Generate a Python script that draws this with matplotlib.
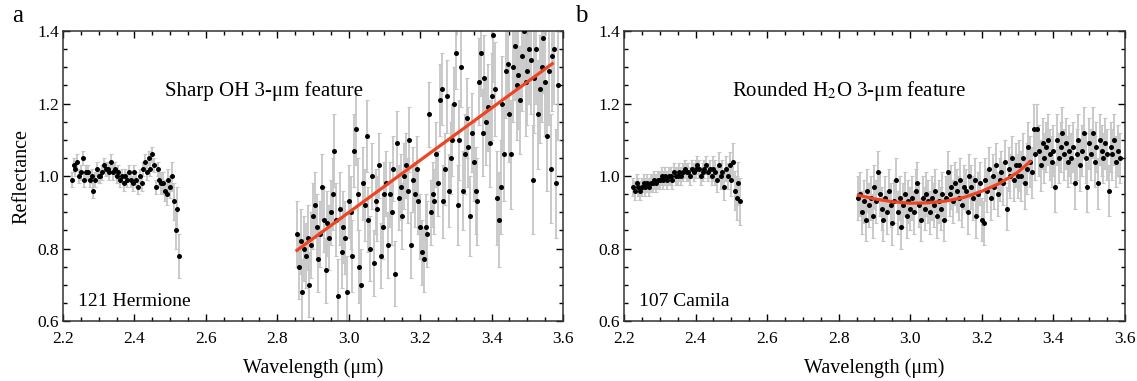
import numpy as np
import matplotlib
matplotlib.use('Agg')
import matplotlib.pyplot as plt
from matplotlib.ticker import MultipleLocator, FormatStrFormatter

plt.rcParams['font.family'] = ['Liberation Serif', 'DejaVu Serif']
plt.rcParams['mathtext.fontset'] = 'stix'

# ---- data ----
# 121 Hermione, short-wavelength segment (2.225 - 2.525 um)
herm_blue_y = [0.99, 1.03, 1.02, 1.04, 1.00, 1.01, 1.05, 0.99, 1.01, 1.01,
               0.99, 1.00, 0.96, 0.99, 1.02, 1.00, 1.00, 1.01, 1.03, 1.02,
               1.02, 1.01, 1.04, 1.01, 1.02, 1.00, 1.01, 0.99, 1.00, 0.98,
               1.00, 0.99, 1.01, 0.99, 0.98, 1.01, 0.99, 0.97, 1.00, 0.98,
               1.02, 1.04, 1.01, 1.05, 1.02, 1.06, 1.03, 0.97, 1.02, 0.99,
               0.98, 0.98, 0.96, 0.95, 0.99, 0.97, 1.00, 0.93, 0.85, 0.91, 0.78]
herm_blue_err = [0.02] * 50 + [0.03] * 6 + [0.04, 0.05, 0.05, 0.06, 0.06]

# 121 Hermione, 3-um segment (2.855 - 3.585 um)
herm_red_y = [0.84, 0.75, 0.82, 0.68, 0.80, 0.78, 0.83, 0.70, 0.81, 0.89,
              0.92, 0.86, 0.77, 0.84, 0.97, 0.88, 0.74, 0.87, 0.83, 0.90,
              0.95, 1.07, 0.88, 0.67, 0.91, 0.79, 0.86, 0.83, 0.68, 0.93,
              0.90, 0.78, 1.07, 1.13, 0.95, 0.75, 0.70, 0.98, 0.92, 1.11,
              0.88, 0.80, 1.00, 0.76, 0.93, 0.91, 1.03, 0.78, 0.86, 0.95,
              0.98, 0.81, 0.95, 0.90, 1.02, 0.73, 1.09, 0.94, 0.97, 0.89,
              1.00, 1.03, 0.96, 1.10, 0.81, 0.99, 0.95, 1.02, 0.93, 0.86,
              0.79, 0.77, 0.86, 0.84, 1.17, 0.90, 0.95, 0.93, 1.06, 0.98,
              1.21, 1.24, 0.93, 1.02, 1.22, 0.96, 1.05, 1.10, 1.20, 1.34,
              0.92, 1.10, 1.30, 0.96, 1.06, 1.16, 1.08, 0.89, 1.12, 1.04,
              0.96, 0.93, 1.26, 1.34, 1.12, 1.27, 1.15, 1.19, 1.09, 1.22,
              1.39, 1.24, 0.94, 0.88, 0.97, 1.20, 1.06, 1.29, 1.31, 1.17,
              1.06, 1.30, 1.36, 1.25, 1.28, 1.21, 1.33, 1.40, 1.26, 1.29,
              1.35, 1.32, 0.99, 1.27, 1.35, 1.17, 1.24, 1.30, 1.38, 1.26,
              1.11, 1.29, 1.02, 1.33, 1.35, 0.98, 1.25]
# typical error per 0.05-um chunk
herm_red_chunk_err = [0.09, 0.09, 0.10, 0.10, 0.09, 0.09, 0.09, 0.09,
                      0.10, 0.11, 0.12, 0.13, 0.15, 0.15, 0.15]

# 107 Camila, short-wavelength segment
cam_blue_y = [0.97, 0.96, 0.98, 0.97, 0.96, 0.97, 0.98, 0.97, 0.98, 0.97,
              0.98, 0.98, 0.99, 0.98, 0.99, 0.99, 1.00, 0.99, 1.00, 0.99,
              1.00, 1.00, 0.99, 1.01, 1.00, 1.00, 1.01, 1.00, 1.01, 1.02,
              1.01, 1.01, 1.00, 1.02, 1.01, 1.02, 1.03, 1.02, 1.00, 1.01,
              1.02, 1.03, 1.01, 1.02, 1.00, 1.02, 1.01, 0.99, 1.03, 1.00,
              1.01, 0.97, 1.02, 1.00, 1.03, 0.99, 1.04, 0.96, 0.94, 0.98, 0.93]
cam_blue_err = [0.025] * 45 + [0.035] * 10 + [0.045, 0.05, 0.055, 0.06, 0.06, 0.065]

# 107 Camila, 3-um segment
cam_red_y = [0.94, 0.95, 0.90, 0.93, 0.88, 0.96, 0.92, 0.94, 0.89, 0.97,
             0.93, 1.01, 0.95, 0.91, 0.88, 0.94, 0.90, 0.96, 0.92, 0.87,
             0.93, 0.99, 0.90, 0.94, 0.86, 0.92, 0.95, 0.89, 0.93, 0.91,
             0.94, 0.90, 0.96, 0.98, 0.92, 0.88, 0.94, 0.91, 0.95, 0.93,
             0.90, 0.94, 0.92, 0.96, 0.89, 0.93, 0.91, 0.95, 0.88, 0.94,
             1.01, 0.95, 0.97, 0.93, 0.98, 0.96, 0.94, 0.99, 0.92, 0.97,
             0.96, 0.90, 1.00, 0.97, 0.94, 0.99, 0.89, 0.95, 0.98, 0.88,
             0.87, 0.99, 0.96, 1.02, 0.94, 1.00, 0.97, 1.03, 0.95, 0.99,
             1.01, 0.98, 1.04, 0.91, 1.02, 1.00, 1.05, 0.99, 1.03, 1.00,
             1.03, 1.00, 1.05, 0.98, 1.02, 1.08, 1.04, 1.01, 1.13, 1.06,
             1.13, 1.07, 1.03, 1.09, 1.05, 1.08, 1.10, 1.06, 1.04, 1.07,
             0.97, 1.10, 1.05, 1.08, 1.12, 1.06, 1.09, 1.04, 1.07, 1.05,
             1.08, 0.98, 1.06, 1.10, 1.03, 1.07, 1.12, 1.05, 0.97, 1.09,
             1.06, 1.12, 1.04, 1.08, 0.98, 1.10, 1.07, 1.05, 1.09, 1.06,
             0.96, 1.08, 1.06, 1.10, 1.04, 1.07, 1.05]
cam_red_chunk_err = [0.06, 0.06, 0.06, 0.06, 0.06, 0.06, 0.06, 0.06,
                     0.06, 0.07, 0.07, 0.07, 0.07, 0.07, 0.07]

# fits
fit_a_x = [2.855, 3.57]
fit_a_y = [0.795, 1.31]
fit_b_x = [2.855, 2.90, 2.95, 3.00, 3.05, 3.10, 3.15, 3.20, 3.25, 3.30, 3.335]
fit_b_y = [0.947, 0.937, 0.929, 0.925, 0.926, 0.931, 0.941, 0.958, 0.980, 1.010, 1.040]


def grid(start, y):
    return start + 0.005 * np.arange(len(y))


def chunk_err(chunks, n):
    return np.repeat(chunks, 10)[:n]


fig = plt.figure(figsize=(11.37, 3.81), dpi=100)
ax_a = fig.add_axes([0.0554, 0.1575, 0.4398, 0.761])
ax_b = fig.add_axes([0.5488, 0.1575, 0.4406, 0.761])

panels = [
    (ax_a, herm_blue_y, herm_blue_err, herm_red_y,
     chunk_err(herm_red_chunk_err, len(herm_red_y)), fit_a_x, fit_a_y,
     '121 Hermione', 'Sharp OH 3-μm feature', 0.402),
    (ax_b, cam_blue_y, cam_blue_err, cam_red_y,
     chunk_err(cam_red_chunk_err, len(cam_red_y)), fit_b_x, fit_b_y,
     '107 Camila', 'Rounded H$_2$O 3-μm feature', 0.449),
]

for ax, by, be, ry, re, fx, fy, name, feat, fpos in panels:
    for x, y, e in [(grid(2.225, by), by, be), (grid(2.855, ry), ry, re)]:
        ax.errorbar(x, y, yerr=e, fmt='none', ecolor='#c6c6c6', elinewidth=1.3,
                    capsize=1.5, capthick=0.8, zorder=2)
        ax.plot(x, y, 'o', color='black', ms=3.6, mew=0, zorder=3)
    ax.plot(fx, fy, color='#ee4422', lw=2.3, zorder=5)

    ax.set_xlim(2.2, 3.6)
    ax.set_ylim(0.6, 1.4)
    ax.xaxis.set_major_locator(MultipleLocator(0.2))
    ax.xaxis.set_minor_locator(MultipleLocator(0.05))
    ax.yaxis.set_major_locator(MultipleLocator(0.2))
    ax.yaxis.set_minor_locator(MultipleLocator(0.05))
    ax.xaxis.set_major_formatter(FormatStrFormatter('%.1f'))
    ax.yaxis.set_major_formatter(FormatStrFormatter('%.1f'))
    ax.tick_params(which='both', direction='in', top=True, right=True,
                   labelsize=12.5, width=1)
    ax.tick_params(which='major', length=5)
    ax.tick_params(which='minor', length=3)
    ax.tick_params(axis='x', which='major', pad=7)
    ax.tick_params(axis='y', which='major', pad=3)
    for s in ax.spines.values():
        s.set_linewidth(1.1)
        s.set_color('#333333')
    ax.set_xlabel('Wavelength (μm)', fontsize=14.5, labelpad=8)

    ax.text(0.03, 0.05, name, transform=ax.transAxes, fontsize=14)
    ax.text(fpos, 0.775, feat, transform=ax.transAxes, fontsize=15, ha='center')

ax_a.set_ylabel('Reflectance', fontsize=14.5, labelpad=4)

fig.text(0.011, 0.957, 'a', fontsize=18, va='center')
fig.text(0.506, 0.957, 'b', fontsize=18, va='center')

fig.savefig('out.png', dpi=100)
